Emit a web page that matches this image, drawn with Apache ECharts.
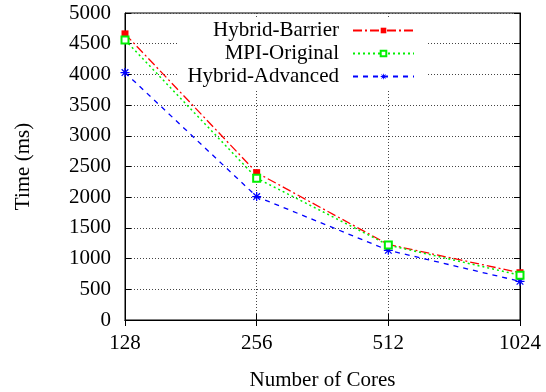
<!DOCTYPE html>
<html>
<head>
<meta charset="utf-8">
<script src="https://cdn.jsdelivr.net/npm/echarts@6/dist/echarts.min.js"></script>
<style>
html,body{margin:0;padding:0;background:#fff;}
#chart{width:546px;height:392px;}
</style>
</head>
<body>
<div id="chart"></div>
<script>
var cores = ['128', '256', '512', '1024'];
var hybridBarrier = [4660, 2400, 1230, 770];
var mpiOriginal = [4560, 2310, 1220, 730];
var hybridAdvanced = [4030, 2010, 1135, 630];
var yTicks = { min: 0, max: 5000, interval: 500 };

var font = 'Liberation Serif';
var asterisk = 'path://M-0.7,-5L0.7,-5L0.7,5L-0.7,5Z M-5,-0.7L5,-0.7L5,0.7L-5,0.7Z M-4.2,-3.2L-3.2,-4.2L4.2,3.2L3.2,4.2Z M3.2,-4.2L4.2,-3.2L-3.2,4.2L-4.2,3.2Z';

var chart = echarts.init(document.getElementById('chart'));
var option = {
    animation: false,
    textStyle: { fontFamily: font, color: '#000' },
    grid: {
        left: 125, right: 26, top: 13, bottom: 72,
        containLabel: false, outerBoundsMode: 'none',
        show: true, borderColor: '#000', borderWidth: 1
    },
    legend: {
        orient: 'vertical',
        align: 'right',
        right: 119,
        top: 18,
        padding: [2, 12, 2, 10],
        backgroundColor: '#fff',
        itemWidth: 61,
        itemHeight: 7,
        itemGap: 2,
        textStyle: { fontFamily: font, fontSize: 21, lineHeight: 20, color: '#000', padding: [0, 9, 0, 0] },
        data: ['Hybrid-Barrier', 'MPI-Original', 'Hybrid-Advanced']
    },
    xAxis: [{
        type: 'category',
        data: cores,
        boundaryGap: false,
        name: 'Number of Cores',
        nameLocation: 'middle',
        nameGap: 50,
        nameTextStyle: { fontFamily: font, fontSize: 21, color: '#000' },
        axisLine: { lineStyle: { color: '#000' } },
        axisTick: { inside: true, length: 6, lineStyle: { color: '#000' } },
        axisLabel: { fontFamily: font, fontSize: 21, color: '#000', margin: 13 },
        splitLine: { show: true, lineStyle: { color: '#444', type: [1, 2], width: 1 } }
    }, {
        type: 'category',
        data: cores,
        boundaryGap: false,
        position: 'top',
        axisLine: { lineStyle: { color: '#000' } },
        axisTick: { inside: true, length: 6, lineStyle: { color: '#000' } },
        axisLabel: { show: false },
        splitLine: { show: false }
    }],
    yAxis: [{
        type: 'value',
        min: yTicks.min, max: yTicks.max, interval: yTicks.interval,
        name: 'Time (ms)',
        nameLocation: 'middle',
        nameGap: 91,
        nameTextStyle: { fontFamily: font, fontSize: 21, color: '#000' },
        axisLine: { show: true, lineStyle: { color: '#000' } },
        axisTick: { show: true, inside: true, length: 6, lineStyle: { color: '#000' } },
        axisLabel: {
            fontFamily: font, fontSize: 21, color: '#000', margin: 14,
            formatter: function (v) { return String(v); }
        },
        splitLine: { show: true, lineStyle: { color: '#444', type: [1, 2], width: 1 } }
    }, {
        type: 'value',
        min: yTicks.min, max: yTicks.max, interval: yTicks.interval,
        position: 'right',
        axisLine: { show: true, lineStyle: { color: '#000' } },
        axisTick: { show: true, inside: true, length: 6, lineStyle: { color: '#000' } },
        axisLabel: { show: false },
        splitLine: { show: false }
    }],
    series: [{
        name: 'Hybrid-Barrier',
        type: 'line',
        z: 5,
        data: hybridBarrier,
        symbol: 'rect',
        symbolSize: 7,
        color: '#ff0000',
        itemStyle: { color: '#ff0000' },
        lineStyle: { color: '#ff0000', width: 1.3, type: [9, 3, 2, 3] }
    }, {
        name: 'MPI-Original',
        type: 'line',
        z: 6,
        data: mpiOriginal,
        symbol: 'emptyRect',
        symbolSize: 7,
        color: '#00f000',
        itemStyle: { color: '#00f000' },
        lineStyle: { color: '#00f000', width: 1.5, type: [2, 3] }
    }, {
        name: 'Hybrid-Advanced',
        type: 'line',
        z: 5,
        data: hybridAdvanced,
        symbol: asterisk,
        symbolSize: 9,
        color: '#0000ff',
        itemStyle: { color: '#0000ff' },
        lineStyle: { color: '#0000ff', width: 1.3, type: [5, 5] }
    }]
};
chart.setOption(option);
</script>
</body>
</html>
